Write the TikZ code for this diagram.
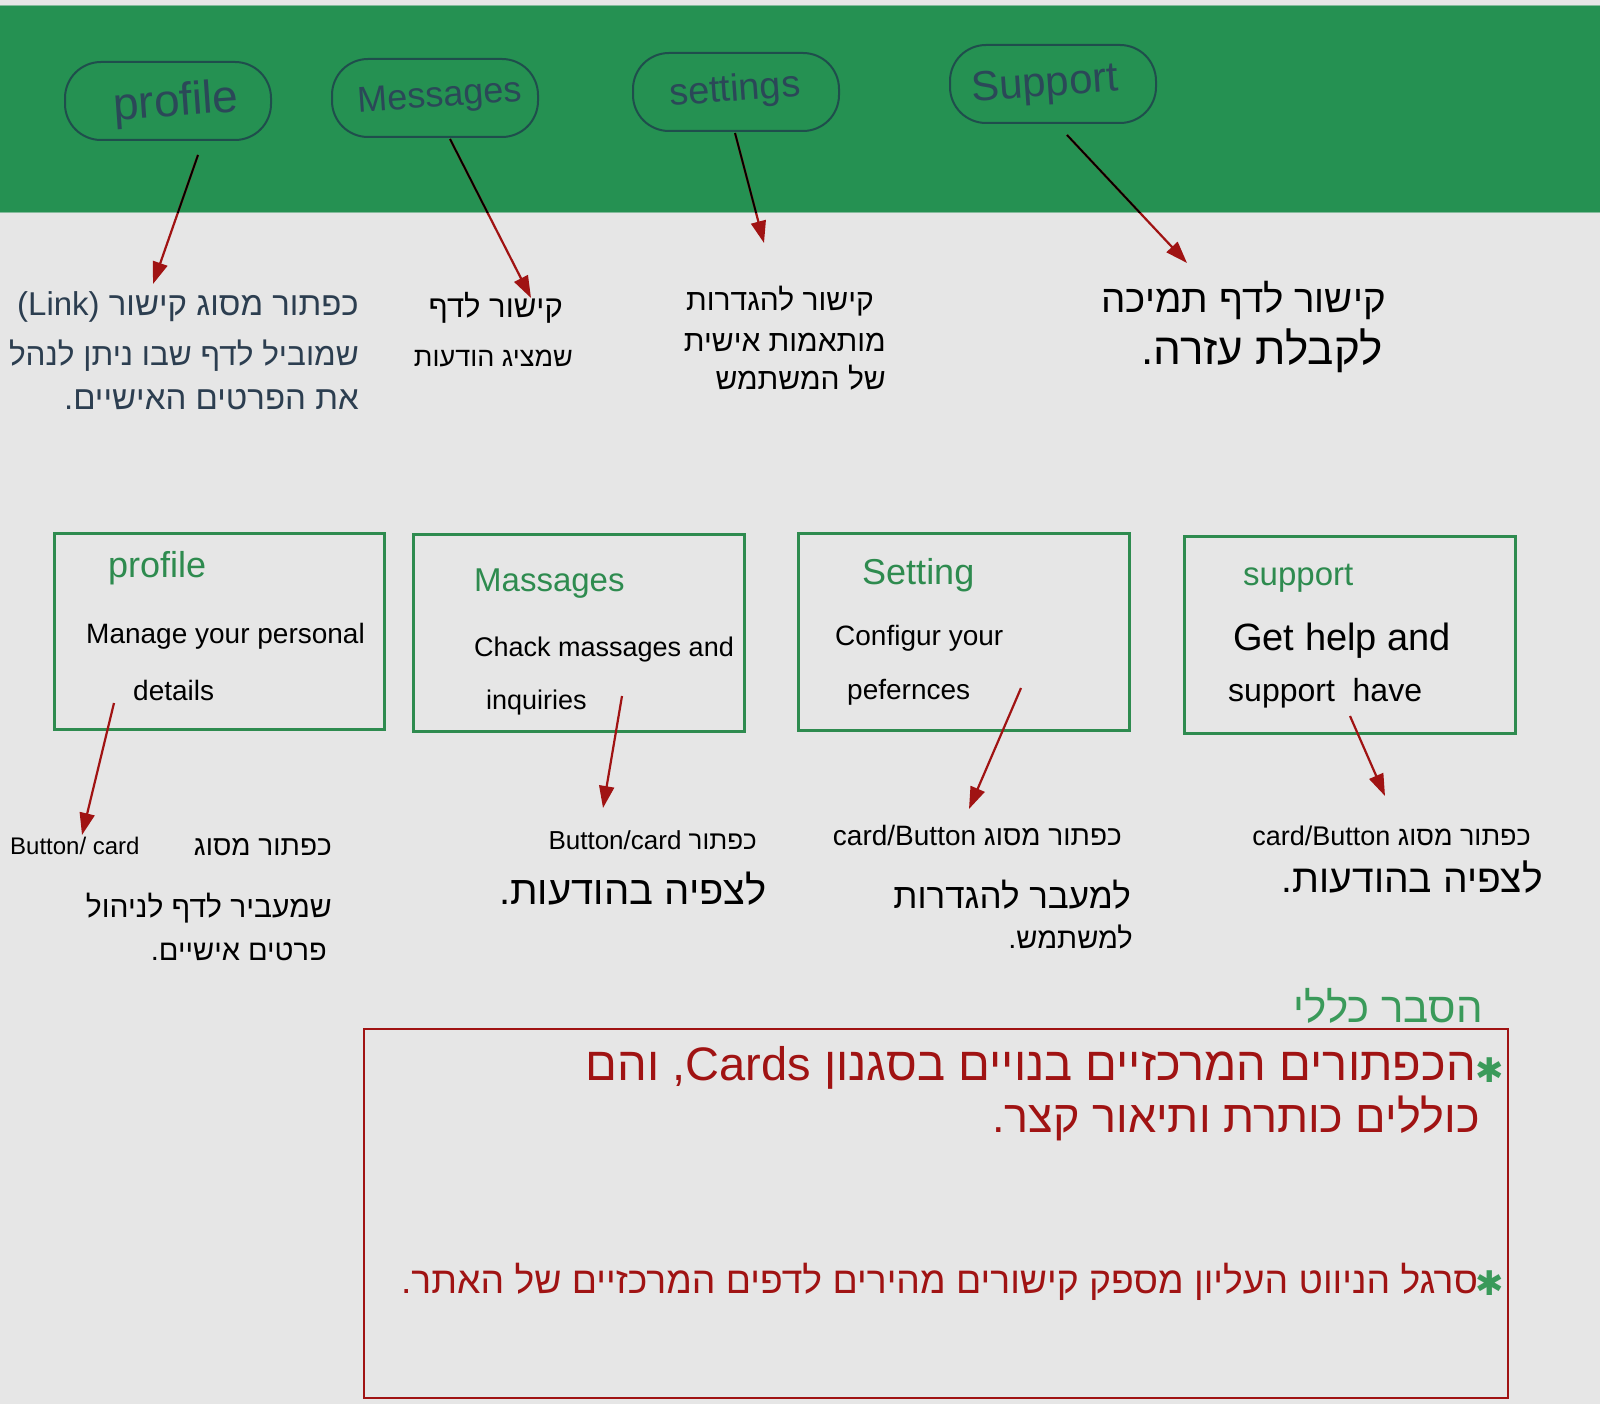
\documentclass[tikz,border=0pt]{standalone}
\usepackage{fontspec}
\setmainfont{Liberation Sans}
\newfontfamily\heb[Script=Hebrew]{Liberation Sans}
\newfontfamily\symf{DejaVu Sans}
\TeXXeTstate=1
\usetikzlibrary{arrows.meta}
\definecolor{bg}{HTML}{E6E6E6}
\definecolor{band}{HTML}{259152}
\definecolor{ovalc}{HTML}{1F4E4C}
\definecolor{ovaltext}{HTML}{2B4858}
\definecolor{boxg}{HTML}{2E8B4F}
\definecolor{lblg}{HTML}{3A9A5A}
\definecolor{darkred}{HTML}{A01313}
\definecolor{slate}{HTML}{2C3E50}
\newcommand{\fs}[1]{\fontsize{#1}{#1}\selectfont}
\tikzset{
  tab/.style={draw=ovalc, line width=2pt, rounded corners=36pt, minimum width=206pt, minimum height=78pt},
  tablbl/.style={text=ovaltext, inner sep=0pt, rotate=4},
  cardbox/.style={draw=boxg, line width=2.5pt, anchor=north west, inner sep=0pt},
  ttl/.style={text=boxg, anchor=mid west, inner sep=0pt},
  body/.style={text=black, anchor=mid west, inner sep=0pt},
  hebr/.style={anchor=mid east, inner sep=0pt},
  latl/.style={anchor=mid west, inner sep=0pt},
  redarr/.style={draw=darkred, line width=2.2pt, -{Triangle[length=22pt,width=15pt]}},
  blackseg/.style={draw=black, line width=1.8pt},
}
\begin{document}
\begin{tikzpicture}[x=1pt,y=-1pt]
% background and band
\fill[bg] (0,0) rectangle (1600,1404);
\useasboundingbox (0,0) rectangle (1600,1404);
\fill[band] (0,6) rectangle (1600,213);
\draw[color=band!50!bg, line width=1pt] (0,6) -- (1600,6);
\draw[color=band!50!bg, line width=1pt] (0,213) -- (1600,213);

% top tabs
\node[tab] (tprof) at (168,101) {};
\node[tab] (tmsg) at (435,98) {};
\node[tab] (tset) at (736,92) {};
\node[tab] (tsup) at (1053,84) {};
\node[tablbl, font=\fs{46}] (lprof) at (176,104) {profile};
\node[tablbl, font=\fs{36}] (lmsg) at (440,98) {Messages};
\node[tablbl, font=\fs{38}] (lset) at (735,91) {settings};
\node[tablbl, font=\fs{42}] (lsup) at (1045,86) {Support};

% top arrows
\coordinate (t1s) at (198,155); \coordinate (t1e) at (153,284);
\coordinate (t2s) at (450,139); \coordinate (t2e) at (531,298);
\coordinate (t3s) at (735,133); \coordinate (t3e) at (764,243);
\coordinate (t4s) at (1067,135); \coordinate (t4e) at (1187,263);
\draw[redarr] (t1s) -- (t1e);
\draw[redarr] (t2s) -- (t2e);
\draw[redarr] (t3s) -- (t3e);
\draw[redarr] (t4s) -- (t4e);
\begin{scope}
\clip (0,6) rectangle (1600,213);
\draw[blackseg] (t1s) -- (t1e);
\draw[blackseg] (t2s) -- (t2e);
\draw[blackseg] (t3s) -- (t3e);
\draw[blackseg] (t4s) -- (t4e);
\end{scope}

% top explanations
\node[hebr, text=slate, font=\heb\fs{33}] (h1a) at (359,313) {\beginR כפתור מסוג קישור \beginL(Link)\endL\endR};
\node[hebr, text=slate, font=\heb\fs{31.5}] (h1b) at (359,363) {\beginR שמוביל לדף שבו ניתן לנהל\endR};
\node[hebr, text=slate, font=\heb\fs{33}] (h1c) at (359,407) {\beginR את הפרטים האישיים.\endR};

\node[hebr, font=\heb\fs{31}] (h2a) at (563,315) {\beginR קישור לדף\endR};
\node[hebr, font=\heb\fs{27}] (h2b) at (573,364) {\beginR שמציג הודעות\endR};

\node[hebr, font=\heb\fs{30}] (h3a) at (874,308) {\beginR קישור להגדרות\endR};
\node[hebr, font=\heb\fs{30}] (h3b) at (886,349) {\beginR מותאמות אישית\endR};
\node[hebr, font=\heb\fs{30}] (h3c) at (886,387) {\beginR של המשתמש\endR};

\node[hebr, font=\heb\fs{38.5}] (h4a) at (1386,310) {\beginR קישור לדף תמיכה\endR};
\node[hebr, font=\heb\fs{44}] (h4b) at (1383,362) {\beginR לקבלת עזרה.\endR};

% cards
\node[cardbox, minimum width=330pt, minimum height=196pt] (c1) at (53,532) {};
\node[cardbox, minimum width=331pt, minimum height=197pt] (c2) at (412,533) {};
\node[cardbox, minimum width=331pt, minimum height=197pt] (c3) at (797,532) {};
\node[cardbox, minimum width=331pt, minimum height=197pt] (c4) at (1183,535) {};

\node[ttl, font=\fs{36}] (c1t) at (108,575) {profile};
\node[ttl, font=\fs{33}] (c2t) at (474,589) {Massages};
\node[ttl, font=\fs{36}] (c3t) at (862,582) {Setting};
\node[ttl, font=\fs{33}] (c4t) at (1243,583) {support};

\node[body, font=\fs{28}] (c1a) at (86,641) {Manage your personal};
\node[body, font=\fs{28}] (c1b) at (133,698) {details};
\node[body, font=\fs{27}] (c2a) at (474,654) {Chack massages and};
\node[body, font=\fs{27}] (c2b) at (486,707) {inquiries};
\node[body, font=\fs{28}] (c3a) at (835,643) {Configur your};
\node[body, font=\fs{28}] (c3b) at (847,697) {pefernces};
\node[body, font=\fs{38}] (c4a) at (1233,648) {Get help and};
\node[body, font=\fs{32}] (c4b) at (1228,699) {support\ \ have};

% card arrows
\coordinate (a1s) at (114,703); \coordinate (a1e) at (82,835);
\coordinate (a2s) at (622,696); \coordinate (a2e) at (603,808);
\coordinate (a3s) at (1021,688); \coordinate (a3e) at (969,809);
\coordinate (a4s) at (1350,716); \coordinate (a4e) at (1385,796);
\draw[redarr] (a1s) -- (a1e);
\draw[redarr] (a2s) -- (a2e);
\draw[redarr] (a3s) -- (a3e);
\draw[redarr] (a4s) -- (a4e);

% bottom explanations
\node[latl, font=\fs{24}] (b1l) at (10,852) {Button/ card};
\node[hebr, font=\heb\fs{28}] (b1a) at (332,853) {\beginR כפתור מסוג\endR};
\node[hebr, font=\heb\fs{30}] (b1b) at (332,915) {\beginR שמעביר לדף לניהול\endR};
\node[hebr, font=\heb\fs{29}] (b1c) at (327,958) {\beginR פרטים אישיים.\endR};

\node[hebr, font=\heb\fs{26}] (b2a) at (757,847) {\beginR כפתור \beginL Button/card\endL\endR};
\node[hebr, font=\heb\fs{40}] (b2b) at (767,902) {\beginR לצפיה בהודעות.\endR};

\node[hebr, font=\heb\fs{28}] (b3a) at (1122,843) {\beginR כפתור מסוג \beginL card/Button\endL\endR};
\node[hebr, font=\heb\fs{35}] (b3b) at (1131,906) {\beginR למעבר להגדרות\endR};
\node[hebr, font=\heb\fs{29}] (b3c) at (1133,946) {\beginR למשתמש.\endR};

\node[hebr, font=\heb\fs{27}] (b4a) at (1531,843) {\beginR כפתור מסוג \beginL card/Button\endL\endR};
\node[hebr, font=\heb\fs{39}] (b4b) at (1543,890) {\beginR לצפיה בהודעות.\endR};

% general explanation
\node[hebr, text=lblg, font=\heb\fs{42}] (gl) at (1483,1020) {\beginR הסבר כללי\endR};
\draw[draw=darkred, line width=2.5pt] (364,1029) rectangle (1508,1398);
\node[inner sep=0pt, text=lblg, font=\symf\fs{34}] (st1) at (1490,1070) {✱};
\node[inner sep=0pt, text=lblg, font=\symf\fs{34}] (st2) at (1490,1283) {✱};
\node[hebr, text=darkred, font=\heb\fs{47}] (r1) at (1476,1078) {\beginR הכפתורים המרכזיים בנויים בסגנון \beginL Cards\endL, והם\endR};
\node[hebr, text=darkred, font=\heb\fs{45}] (r2) at (1480,1130) {\beginR כוללים כותרת ותיאור קצר.\endR};
\node[hebr, text=darkred, font=\heb\fs{37.3}] (r3) at (1478,1291) {\beginR סרגל הניווט העליון מספק קישורים מהירים לדפים המרכזיים של האתר.\endR};
\end{tikzpicture}
\end{document}
